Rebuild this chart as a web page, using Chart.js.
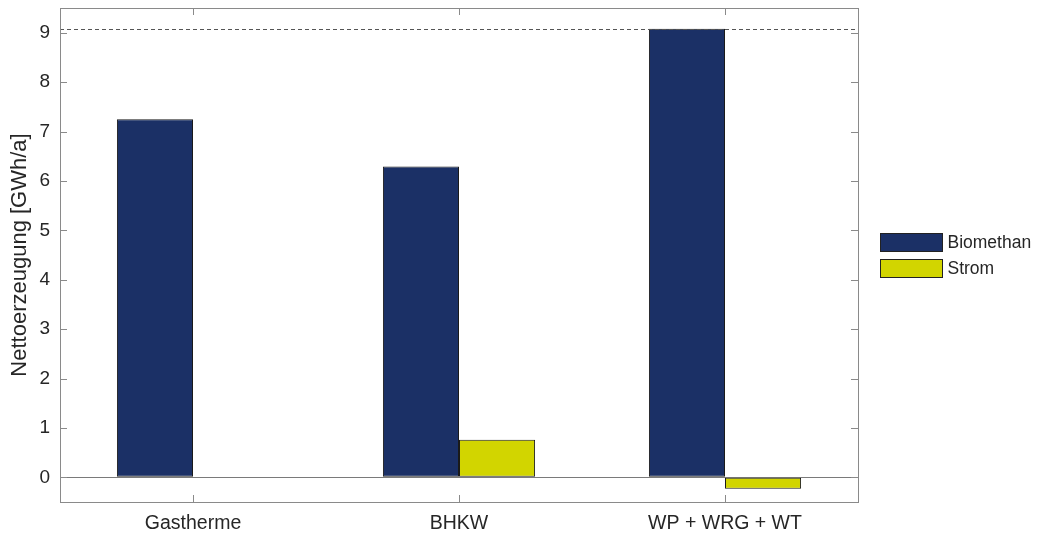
<!DOCTYPE html>
<html>
<head>
<meta charset="utf-8">
<script src="https://cdn.jsdelivr.net/npm/chart.js@4/dist/chart.umd.min.js"></script>
<style>
  html, body { margin: 0; padding: 0; background: #fff; }
  #wrap { width: 1037px; height: 538px; }
</style>
</head>
<body>
<div id="wrap"><canvas id="c" width="1037" height="538"></canvas></div>
<script>
// Net generation per heating variant [GWh/a]
const categories = ['Gastherme', 'BHKW', 'WP + WRG + WT'];
const biomethan = [7.25, 6.29, 9.08];
const strom = [0, 0.76, -0.23];
const yTicks = [0, 1, 2, 3, 4, 5, 6, 7, 8, 9];
const referenceLevel = 9.08;   // dashed guide at the highest value
const seriesNames = ['Biomethan', 'Strom'];
const seriesColors = ['#1b3066', '#d2d500'];

const FONT = '"Liberation Sans", Arial, sans-serif';
const FRAME = '#8a8a8a';
const TEXT = '#262626';

// Frame, inward ticks, dashed guide and legend drawn on top of the chart area
const decorPlugin = {
  id: 'decor',
  afterDatasetsDraw(chart) {
    const { ctx, chartArea: a, scales } = chart;
    const x = scales.x, y = scales.y;
    ctx.save();

    // dashed guide line
    const gy = Math.round(y.getPixelForValue(referenceLevel)) + 0.5;
    ctx.strokeStyle = '#555';
    ctx.lineWidth = 1;
    ctx.setLineDash([4, 3]);
    ctx.beginPath();
    ctx.moveTo(a.left, gy);
    ctx.lineTo(a.right, gy);
    ctx.stroke();
    ctx.setLineDash([]);

    // frame
    ctx.strokeStyle = FRAME;
    ctx.lineWidth = 1;
    ctx.strokeRect(Math.round(a.left) + 0.5, Math.round(a.top) + 0.5,
                   Math.round(a.right - a.left), Math.round(a.bottom - a.top));

    // inward ticks
    const len = 7;
    ctx.beginPath();
    yTicks.forEach(v => {
      const py = Math.round(y.getPixelForValue(v)) + 0.5;
      ctx.moveTo(a.left, py); ctx.lineTo(a.left + len, py);
      ctx.moveTo(a.right, py); ctx.lineTo(a.right - len, py);
    });
    categories.forEach((c, i) => {
      const px = Math.round(x.getPixelForValue(i)) + 0.5;
      ctx.moveTo(px, a.bottom); ctx.lineTo(px, a.bottom - len);
      ctx.moveTo(px, a.top); ctx.lineTo(px, a.top + len);
    });
    ctx.stroke();

    // legend
    const lx = 880.5, ly0 = 233.5, bw = 62, bh = 18, gap = 26;
    ctx.font = '17.5px ' + FONT;
    ctx.textBaseline = 'middle';
    seriesNames.forEach((name, i) => {
      const ly = ly0 + i * gap;
      ctx.fillStyle = seriesColors[i];
      ctx.fillRect(lx, ly, bw, bh);
      ctx.strokeStyle = '#222';
      ctx.strokeRect(lx, ly, bw, bh);
      ctx.fillStyle = TEXT;
      ctx.fillText(name, lx + bw + 5, ly + bh / 2 + 1);
    });
    ctx.restore();
  }
};

new Chart(document.getElementById('c'), {
  type: 'bar',
  data: {
    labels: categories,
    datasets: [
      { label: seriesNames[0], data: biomethan, backgroundColor: seriesColors[0],
        borderColor: '#1a1a1a', borderWidth: 1, borderSkipped: false },
      { label: seriesNames[1], data: strom, backgroundColor: seriesColors[1],
        borderColor: '#1a1a1a', borderWidth: 1, borderSkipped: false }
    ]
  },
  options: {
    responsive: false,
    animation: false,
    devicePixelRatio: 1,
    layout: { padding: { top: 8, right: 179, left: 0, bottom: 0 } },
    datasets: { bar: { categoryPercentage: 0.572, barPercentage: 1.0 } },
    plugins: { legend: { display: false }, tooltip: { enabled: false } },
    scales: {
      x: {
        offset: true,
        grid: { display: false, drawTicks: false },
        border: { display: false },
        ticks: { color: TEXT, font: { family: FONT, size: 19.5 }, padding: 10, maxRotation: 0 },
        afterFit(s) { s.height = 36; s.paddingLeft = 0; s.paddingRight = 0; }
      },
      y: {
        min: -0.5, max: 9.5,
        afterBuildTicks(s) { s.ticks = yTicks.map(v => ({ value: v })); },
        grid: {
          drawTicks: false,
          color: c => (c.tick && c.tick.value === 0) ? '#7a7a7a' : 'rgba(0,0,0,0)',
          lineWidth: 1
        },
        border: { display: false },
        ticks: { color: TEXT, font: { family: FONT, size: 19 }, padding: 10 },
        title: {
          display: true, text: 'Nettoerzeugung [GWh/a]', color: TEXT,
          font: { family: FONT, size: 22 }, padding: { top: 7, bottom: 0 }
        },
        afterFit(s) { s.width = 60; s.paddingTop = 0; s.paddingBottom = 0; }
      }
    }
  },
  plugins: [decorPlugin]
});
</script>
</body>
</html>
